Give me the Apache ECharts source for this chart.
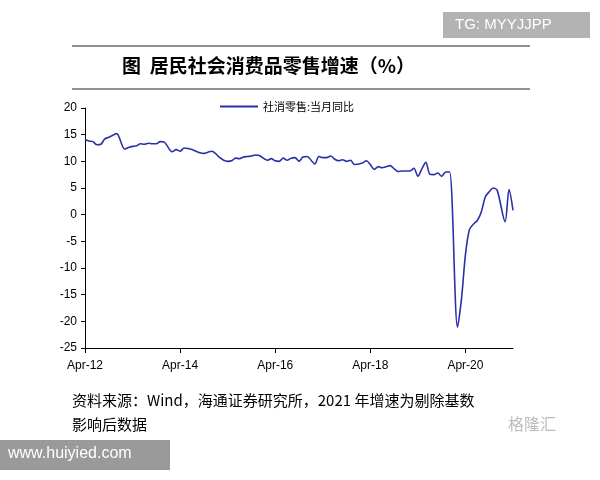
<!DOCTYPE html><html><head><meta charset="utf-8"><script src="https://cdn.jsdelivr.net/npm/echarts@6/dist/echarts.min.js"></script>
<style>body{margin:0;background:#fff}#c{width:600px;height:480px}</style></head><body><div id="c"></div><script>
const months=[];const mn=['Jan','Feb','Mar','Apr','May','Jun','Jul','Aug','Sep','Oct','Nov','Dec'];
for(let y=2012;y<=2021;y++)for(let m=0;m<12;m++){if(y===2012&&m<3)continue;if(y===2021&&m>3)continue;months.push(mn[m]+'-'+String(y).slice(2));}
const v2012=[14.1,13.8,13.7,13.1,13.2,14.2,14.5,14.9,15.2];
const v2013=[null,12.3,12.6,12.8,12.9,13.3,13.2,13.4,13.3,13.3,13.7,13.6];
const v2014=[null,11.8,12.2,11.9,12.5,12.4,12.2,11.9,11.6,11.5,11.7,11.9];
const v2015=[null,10.7,10.2,10.0,10.1,10.6,10.5,10.8,10.9,11.0,11.2,11.1];
const v2016=[null,10.2,10.5,10.1,10.0,10.6,10.2,10.6,10.7,10.0,10.8,10.9];
const v2017=[null,9.5,10.9,10.7,10.7,11.0,10.4,10.1,10.3,10.0,10.2,9.4];
const v2018=[null,9.7,10.1,9.4,8.5,9.0,8.8,9.0,9.2,8.6,8.1,8.2];
const v2019=[null,8.2,8.7,7.2,8.6,9.8,7.6,7.5,7.8,7.2,8.0,8.0];
const v2020=[null,-21.1,-15.8,-7.5,-2.8,-1.8,-1.1,0.5,3.3,4.3,5.0,4.6];
const v2021=[null,-1.3,4.7,0.8];
const values=[].concat(v2012,v2013,v2014,v2015,v2016,v2017,v2018,v2019,v2020,v2021);
const yTicks=[-25,20,5];
const ff='"Noto Sans CJK SC", sans-serif';
const showLab=(i,l)=>/^Apr-(12|14|16|18|20)$/.test(l);
const c=echarts.init(document.getElementById('c'));
c.setOption({animation:false,
graphic:[
{type:'rect',shape:{x:443,y:12,width:147,height:26},style:{fill:'#b3b3b3'}},
{type:'text',left:455,top:17,style:{text:'TG: MYYJJPP',fill:'#fff',font:'15px "Liberation Sans"'}},
{type:'line',shape:{x1:72,y1:46,x2:530,y2:46},style:{stroke:'#222',lineWidth:1}},
{type:'line',shape:{x1:72,y1:89,x2:530,y2:89},style:{stroke:'#222',lineWidth:1}},
{type:'text',left:122,top:56,style:{text:'图  居民社会消费品零售增速（%）',fill:'#000',font:'bold 19px '+ff}},
{type:'text',left:72,top:393,style:{text:'资料来源：Wind，海通证券研究所，2021 年增速为剔除基数',fill:'#000',font:'15px '+ff}},
{type:'text',left:72,top:417,style:{text:'影响后数据',fill:'#000',font:'15px '+ff}},
{type:'rect',shape:{x:0,y:440,width:170,height:30},style:{fill:'#9a9a9a'}},
{type:'text',left:8,top:446,style:{text:'www.huiyied.com',fill:'#fff',font:'16px "Liberation Sans"'}},
{type:'text',left:508,top:416,style:{text:'格隆汇',fill:'#bbb',font:'16px '+ff}}
],
legend:{top:96,left:215,itemWidth:38,itemHeight:2,icon:'rect',textStyle:{fontSize:11,fontFamily:ff,color:'#000'}},
grid:{left:85,right:87,top:108,bottom:132},
xAxis:[{type:'category',data:months,boundaryGap:false,position:'bottom',axisLine:{show:false},axisTick:{show:false},
axisLabel:{interval:showLab,color:'#000',fontSize:12,fontFamily:'"Liberation Sans"',margin:12}},
{type:'category',data:months,boundaryGap:false,position:'bottom',axisLine:{onZero:true,lineStyle:{color:'#000'}},axisTick:{interval:showLab,length:5,inside:false,lineStyle:{color:'#000'}},axisLabel:{show:false}}],
yAxis:{type:'value',min:yTicks[0],max:yTicks[1],interval:yTicks[2],splitLine:{show:false},axisLine:{show:true,lineStyle:{color:'#000'}},axisTick:{show:true,length:4},axisLabel:{color:'#000',fontSize:12,fontFamily:'"Liberation Sans"'}},
series:[{name:'社消零售:当月同比',type:'line',data:values,connectNulls:true,showSymbol:false,smooth:0.3,lineStyle:{color:'#2a30a8',width:1.6},itemStyle:{color:'#2a30a8'}}]
});
</script></body></html>
